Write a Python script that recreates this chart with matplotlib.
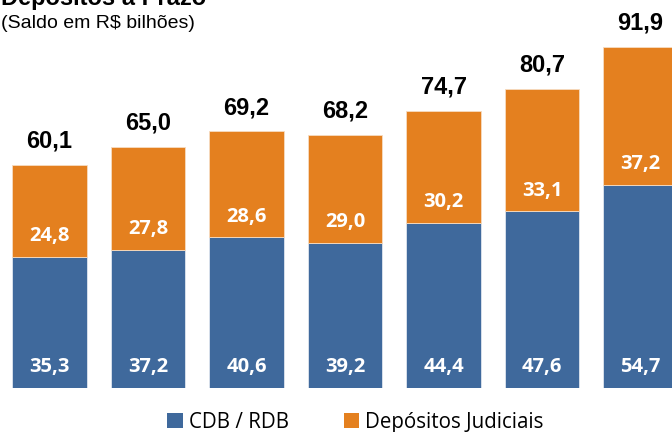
import matplotlib.pyplot as plt
from matplotlib.patches import Patch

# ---- data ----
cdb_rdb = [35.3, 37.2, 40.6, 39.2, 44.4, 47.6, 54.7]
judiciais = [24.8, 27.8, 28.6, 29.0, 30.2, 33.1, 37.2]
totals = [60.1, 65.0, 69.2, 68.2, 74.7, 80.7, 91.9]
series_names = ['CDB / RDB', 'Depósitos Judiciais']

BLUE = '#3F699C'
ORANGE = '#E4801F'


def br(v):
    return f'{v:.1f}'.replace('.', ',')


fig = plt.figure(figsize=(6.72, 4.32), dpi=100)
ax = fig.add_axes([0, 44 / 432, 1, 388 / 432])

x = list(range(len(cdb_rdb)))
w = 0.761
ax.bar(x, cdb_rdb, width=w, color=BLUE, edgecolor='#dfe6ef', linewidth=0.6)
ax.bar(x, judiciais, width=w, bottom=cdb_rdb, color=ORANGE,
       edgecolor='#f6dcc2', linewidth=0.6)

ax.set_xlim(-49.5 / 98.5, (672 - 49.5) / 98.5)
ax.set_ylim(0, 388 / 3.71)
ax.axis('off')

seg_font = dict(family=['Open Sans', 'DejaVu Sans'], fontweight='bold', fontsize=14.5,
                color='white', ha='center', va='center')
for i in x:
    ax.annotate(br(cdb_rdb[i]), (i, 0), xytext=(0, 15),
                textcoords='offset points', **seg_font)
    ax.annotate(br(judiciais[i]), (i, cdb_rdb[i]), xytext=(0, 15),
                textcoords='offset points', **seg_font)
    ax.annotate(br(totals[i]), (i, totals[i]), xytext=(0, 17),
                textcoords='offset points', ha='center', va='center',
                family='Liberation Sans', fontweight='bold', fontsize=17,
                color='black')

# titles (top partly cut off like the source)
fig.text(1 / 672, 1 - 5 / 432, 'Depósitos a Prazo', family='Liberation Sans',
         fontweight='bold', fontsize=17, ha='left', va='baseline')
fig.text(1 / 672, 1 - 24 / 432, '(Saldo em R$ bilhões)', family='Liberation Sans',
         fontsize=14, ha='left', va='center')

handles = [Patch(facecolor=BLUE), Patch(facecolor=ORANGE)]
fig.legend(handles, series_names, loc='center', bbox_to_anchor=(355.5 / 672, 1 - 422.5 / 432),
           ncol=2, frameon=False, handlelength=0.75, handleheight=0.75,
           handletextpad=0.3, columnspacing=2.66,
           prop=dict(family=['Open Sans', 'DejaVu Sans'], size=14.8))

fig.savefig('out.png', dpi=100)
